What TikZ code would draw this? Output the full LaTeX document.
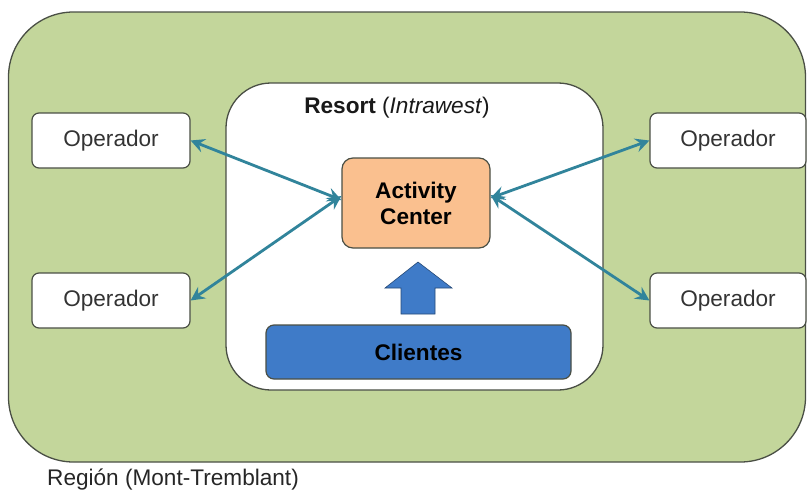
\documentclass[tikz,border=0pt]{standalone}
\usepackage{fontspec}
\setmainfont{Liberation Sans}
\usetikzlibrary{arrows.meta}
\definecolor{regiongreen}{HTML}{C3D69B}
\definecolor{linkteal}{HTML}{31849B}
\definecolor{centerorange}{HTML}{FAC08F}
\definecolor{clientblue}{HTML}{3F7BC8}
\definecolor{edgegray}{HTML}{4A4F45}
\begin{document}
\begin{tikzpicture}[x=1pt,y=-1pt,
  font=\fontsize{22.6}{26}\selectfont,
  opbox/.style={draw=edgegray, line width=1.2pt, fill=white, rounded corners=7pt,
    minimum width=158pt, minimum height=55pt, inner sep=0pt, text=black!80},
  link/.style={draw=linkteal, line width=2.8pt,
    {Stealth[length=14pt,width=14pt,inset=5pt]}-{Stealth[length=14pt,width=14pt,inset=5pt]}}]
\useasboundingbox (0,0) rectangle (807,490);

% region and resort containers
\node[draw=edgegray, line width=1.3pt, fill=regiongreen, rounded corners=65pt,
  minimum width=797pt, minimum height=450pt] (region) at (407,237) {};
\node[anchor=base west, inner sep=0pt, text=black!85] (regionlabel) at (47,485.5) {Región (Mont-Tremblant)};
\node[draw=edgegray, line width=1.3pt, fill=white, rounded corners=45pt,
  minimum width=377pt, minimum height=307pt] (resort) at (414.5,236.5) {};
\node[text=black!90] (resortlabel) at (397,108) {\textbf{Resort} (\textit{Intrawest})};

% inner boxes
\node[draw=edgegray, line width=1.2pt, fill=centerorange, rounded corners=11pt,
  minimum width=148pt, minimum height=90pt, align=center, font=\fontsize{22.6}{26}\selectfont\bfseries]
  (ac) at (416,203) {Activity\\Center};
\node[draw=edgegray, line width=1.2pt, fill=clientblue, rounded corners=8pt,
  minimum width=305pt, minimum height=54pt, font=\fontsize{22.6}{26}\selectfont\bfseries]
  (cli) at (418.5,352) {Clientes};

% block arrow from Clientes up to the Activity Center
\coordinate (uptip) at (418,262);
\draw[draw=clientblue!60!black, line width=0.6pt, fill=clientblue]
  (uptip) -- (452,288) -- (435,288) -- (435,314) -- (401,314) -- (401,288) -- (385,288) -- cycle;

% operators
\node[opbox] (oplt) at (111,140.5) {Operador};
\node[opbox] (oplb) at (111,300.5) {Operador};
\node[opbox, minimum width=156pt] (oprt) at (728,140.5) {Operador};
\node[opbox, minimum width=156pt] (oprb) at (728,300.5) {Operador};

% two-way links
\draw[link] (oplt.east) -- ([yshift=3pt]ac.west);
\draw[link] (oplb.east) -- ([yshift=7pt]ac.west);
\draw[link] ([yshift=5pt]ac.east) -- (oprt.west);
\draw[link] ([yshift=8pt]ac.east) -- (oprb.west);
\end{tikzpicture}
\end{document}
